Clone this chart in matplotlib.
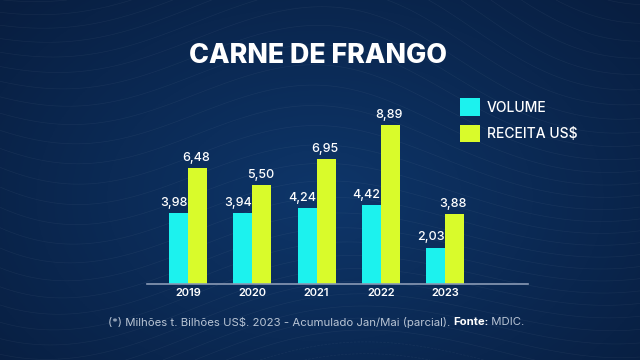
import numpy as np
import matplotlib.pyplot as plt

years = ['2019', '2020', '2021', '2022', '2023']
volume = [3.98, 3.94, 4.24, 4.42, 2.03]
receita = [6.48, 5.50, 6.95, 8.89, 3.88]
series_names = ['VOLUME', 'RECEITA US$']

cyan = '#1cf2ee'
lime = '#d9fb2b'
font = 'Inter'

fig = plt.figure(figsize=(6.4, 3.6), dpi=100)

# background gradient with faint topographic lines
bg = fig.add_axes([0, 0, 1, 1])
yy, xx = np.mgrid[0:1:200j, 0:1:360j]
r = np.sqrt(((xx - 0.5) * 1.2) ** 2 + ((yy - 0.45) * 1.0) ** 2)
c0 = np.array([0x0e, 0x36, 0x6a]) / 255
c1 = np.array([0x08, 0x1e, 0x40]) / 255
t = np.clip(r / 0.8, 0, 1)[..., None]
img = c0 * (1 - t) + c1 * t
bg.imshow(img, aspect='auto', extent=[0, 1, 0, 1], origin='lower')
field = yy * 6 + 0.6 * np.sin(xx * 7 + 1) + 0.4 * np.cos(xx * 3 - yy * 4)
bg.contour(xx, yy, field, levels=30, colors='white', linewidths=0.5, alpha=0.05)
bg.set_xlim(0, 1)
bg.set_ylim(0, 1)
bg.axis('off')

ax = fig.add_axes([0.2297, 0.2111, 0.5953, 0.5111])
ax.patch.set_alpha(0)
x = np.arange(len(years))
w = 0.296
b1 = ax.bar(x - w / 2, volume, w, color=cyan, label=series_names[0])
b2 = ax.bar(x + w / 2, receita, w, color=lime, label=series_names[1])
for bars, vals, dx in [(b1, volume, -3.5), (b2, receita, -1)]:
    for rect, v in zip(bars, vals):
        ax.annotate(f'{v:.2f}'.replace('.', ','),
                    (rect.get_x() + rect.get_width() / 2, v),
                    xytext=(dx, 3), textcoords='offset points',
                    ha='center', va='bottom', color='white',
                    fontsize=9, family=font, fontweight='medium')

ax.set_xlim(-0.638, 5.29)
ax.set_ylim(0, 10.27)
ax.set_xticks(x)
ax.set_xticklabels(years, color='white', fontsize=8, family=font, fontweight='semibold')
ax.tick_params(axis='x', length=0, pad=3)
ax.set_yticks([])
for s in ['top', 'right', 'left']:
    ax.spines[s].set_visible(False)
ax.spines['bottom'].set_color('#8a9ab5')
ax.spines['bottom'].set_linewidth(1.2)

leg = ax.legend(loc='upper left', bbox_to_anchor=(0.822, 1.01), frameon=False,
                borderaxespad=0, borderpad=0,
                handlelength=1.4, handleheight=1.6, handletextpad=0.5,
                labelspacing=0.62, prop={'family': font, 'size': 10, 'weight': 'medium'})
for txt in leg.get_texts():
    txt.set_color('white')

fig.text(0.497, 0.845, 'CARNE DE FRANGO', ha='center', va='center',
         color='white', fontsize=19.3, fontweight='heavy', family=font)

fs = 8.2
note = fig.text(0.168, 0.105, '(*) Milhões t. Bilhões US$. 2023 - Acumulado Jan/Mai (parcial). ',
                ha='left', va='center', color='#b8c4d4', fontsize=fs, family=font)
n2 = fig.text(0, 0.105, 'Fonte:', color='white', fontsize=fs, family=font,
              fontweight='bold', va='center')
fig.canvas.draw()
inv = fig.transFigure.inverted()
bb = note.get_window_extent()
x1 = inv.transform((bb.x1, bb.y0))[0]
n2.set_x(x1)
fig.canvas.draw()
bb2 = n2.get_window_extent()
x2 = inv.transform((bb2.x1, bb2.y0))[0]
fig.text(x2, 0.105, ' MDIC.', ha='left', va='center', color='#b8c4d4',
         fontsize=fs, family=font)

fig.savefig('out.png', dpi=100)
